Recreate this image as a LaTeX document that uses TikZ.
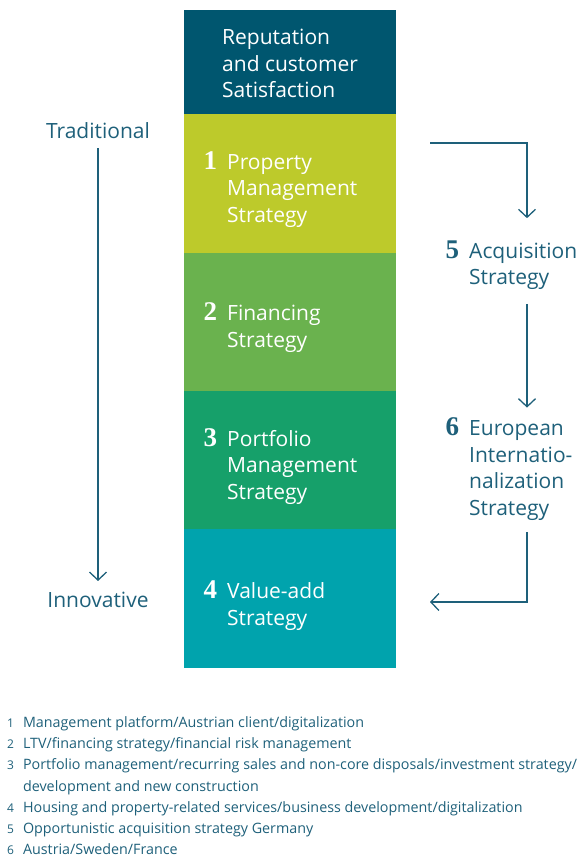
\documentclass[tikz,border=0pt]{standalone}
\usepackage{fontspec}
\setmainfont{Open Sans}
\newfontfamily\numfont{Liberation Serif}
\usetikzlibrary{positioning,arrows.meta}
\definecolor{ink}{RGB}{30,96,122}
\definecolor{repblue}{RGB}{0,86,111}
\definecolor{lime}{RGB}{189,202,43}
\definecolor{leaf}{RGB}{106,178,78}
\definecolor{jade}{RGB}{22,160,106}
\definecolor{lagoon}{RGB}{0,163,173}
\newcommand{\bignum}[1]{\makebox[0pt][r]{\numfont\bfseries\fontsize{27}{27}\selectfont #1\hspace{10pt}}}

\begin{document}
\begin{tikzpicture}[x=1pt, y=-1pt, node distance=0pt, >={Straight Barb[length=8pt,width=17pt]},
  stratbox/.style={minimum width=212pt, inner sep=0pt, outer sep=0pt},
  boxtext/.style={text=white, align=left, anchor=west, inner sep=0pt, font=\fontsize{21}{26.5}\selectfont},
  sidetext/.style={text=ink, align=left, anchor=west, inner sep=0pt, font=\fontsize{21}{26.5}\selectfont},
  flow/.style={draw=ink, line width=1.3pt, ->}]
\useasboundingbox (0,0) rectangle (582,858);
% column of strategies
\node [stratbox, fill=repblue, minimum height=104pt, anchor=north west] (r0) at (184,10) {};
\node [stratbox, fill=lime, minimum height=139pt] (s1) [below=of r0] {};
\node [stratbox, fill=leaf, minimum height=138pt] (s2) [below=of s1] {};
\node [stratbox, fill=jade, minimum height=138pt] (s3) [below=of s2] {};
\node [stratbox, fill=lagoon, minimum height=139pt] (s4) [below=of s3] {};
% texts in the boxes
\node [boxtext] at (222,63.5) {Reputation\\and customer\\Satisfaction};
\node [boxtext] at (227,189.5) {\bignum{1}Property\\Management\\Strategy};
\node [boxtext] at (227,327.5) {\bignum{2}Financing\\Strategy};
\node [boxtext] at (227,466.5) {\bignum{3}Portfolio\\Management\\Strategy};
\node [boxtext] at (227,605.5) {\bignum{4}Value-add\\Strategy};
% traditional to innovative
\node [sidetext, anchor=center] (trad) at (98,131) {Traditional};
\node [sidetext, anchor=center] (innov) at (98,600) {Innovative};
\draw [flow, shorten <=9pt, shorten >=11pt] (trad) -- (innov);
% external strategies
\node [sidetext] (s5) at (469,265) {\bignum{5}Acquisition\\Strategy};
\node [sidetext] (s6) at (469,469) {\bignum{6}European\\Internatio-\\nalization\\Strategy};
\coordinate (rail) at (527,0);
\coordinate (c1) at (430,143);
\coordinate (c2) at (430,602);
\path
(c1) edge [flow, shorten >=22pt, to path={-| (\tikztotarget)}] (s5.north -| rail)
(s5.south -| rail) edge [flow, shorten <=14pt, shorten >=10pt] (s6.north -| rail)
(s6.south -| rail) edge [flow, shorten <=12pt, to path={|- (\tikztotarget)}] (c2)
;
% footnotes
\node [anchor=north west, inner sep=0pt, text=ink, font=\fontsize{14.3}{21.3}\selectfont] (notes) at (7,712) {%
\begin{tabular}{@{}l@{\hspace{9pt}}l@{}}
{\fontsize{12}{12}\selectfont 1} & Management platform/Austrian client/digitalization\\
{\fontsize{12}{12}\selectfont 2} & LTV/financing strategy/financial risk management\\
{\fontsize{12}{12}\selectfont 3} & Portfolio management/recurring sales and non-core disposals/investment strategy/\\
 & development and new construction\\
{\fontsize{12}{12}\selectfont 4} & Housing and property-related services/business development/digitalization\\
{\fontsize{12}{12}\selectfont 5} & Opportunistic acquisition strategy Germany\\
{\fontsize{12}{12}\selectfont 6} & Austria/Sweden/France
\end{tabular}};
\end{tikzpicture}
\end{document}
